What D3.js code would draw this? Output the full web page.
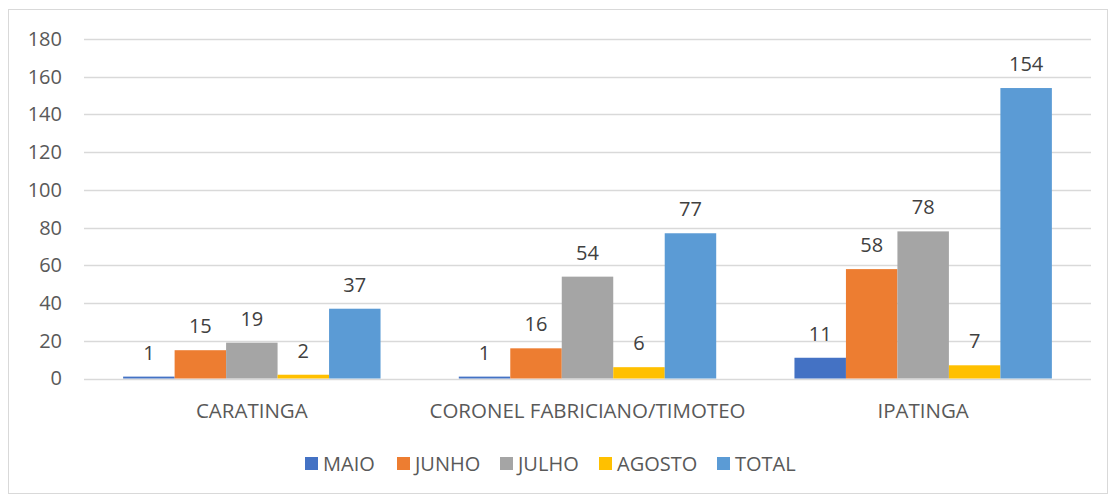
<!DOCTYPE html>
<html>
<head>
<meta charset="utf-8">
<script src="https://cdn.jsdelivr.net/npm/d3@7"></script>
<style>
  body { margin: 0; background: #fff; }
  svg text { font-family: "Open Sans", "Liberation Sans", Arial, sans-serif; }
</style>
</head>
<body>
<div id="chart"></div>
<script>
// data
var categories = ["CARATINGA", "CORONEL FABRICIANO/TIMOTEO", "IPATINGA"];
var seriesNames = ["MAIO", "JUNHO", "JULHO", "AGOSTO", "TOTAL"];
var maio   = [1, 1, 11];
var junho  = [15, 16, 58];
var julho  = [19, 54, 78];
var agosto = [2, 6, 7];
var total  = [37, 77, 154];
var yTicks = [0, 20, 40, 60, 80, 100, 120, 140, 160, 180];

var seriesValues = [maio, junho, julho, agosto, total];
var colors = ["#4472C4", "#ED7D31", "#A5A5A5", "#FFC000", "#5B9BD5"];

var W = 1115, H = 496;
var plotLeft = 84, plotRight = 1091, plotTop = 39, plotBottom = 378.5;

var svg = d3.select("#chart").append("svg")
  .attr("width", W).attr("height", H);

// outer border
svg.append("rect")
  .attr("x", 8.5).attr("y", 9.5)
  .attr("width", 1099).attr("height", 484)
  .attr("fill", "#fff").attr("stroke", "#d9d9d9");

var y = d3.scaleLinear().domain([0, 180]).range([plotBottom, plotTop]);
var x0 = d3.scaleBand().domain(categories).range([plotLeft, plotRight]);
var x1 = d3.scaleBand().domain(seriesNames).range([0, x0.bandwidth()]).paddingOuter(0.76);

// gridlines
svg.append("g").selectAll("line")
  .data(yTicks).join("line")
  .attr("x1", plotLeft).attr("x2", plotRight)
  .attr("y1", function(d){ return Math.round(y(d)) + 0.5; })
  .attr("y2", function(d){ return Math.round(y(d)) + 0.5; })
  .attr("stroke", "#d9d9d9").attr("stroke-width", 1.3);

// y axis labels
var yAxis = d3.axisLeft(y).tickValues(yTicks).tickSize(0).tickPadding(0);
var ya = svg.append("g").attr("transform", "translate(62,0)").call(yAxis);
ya.select(".domain").remove();
ya.selectAll("text").attr("fill", "#595959").style("font-size", "20px")
  .style("font-family", "'Open Sans', 'Liberation Sans', Arial, sans-serif");

// bars
var groups = svg.append("g").selectAll("g")
  .data(categories).join("g")
  .attr("transform", function(c){ return "translate(" + x0(c) + ",0)"; });

function rows(c, i) {
  return seriesNames.map(function(s, j){ return {s: s, v: seriesValues[j][i], j: j}; });
}

groups.selectAll("rect")
  .data(rows)
  .join("rect")
  .attr("x", function(d){ return x1(d.s); })
  .attr("width", x1.bandwidth())
  .attr("y", function(d){ return y(d.v); })
  .attr("height", function(d){ return y(0) - y(d.v); })
  .attr("fill", function(d){ return colors[d.j]; });

groups.selectAll("text.lbl")
  .data(rows)
  .join("text").attr("class", "lbl")
  .attr("x", function(d){ return x1(d.s) + x1.bandwidth() / 2; })
  .attr("y", function(d){ return y(d.v) - 17; })
  .attr("text-anchor", "middle")
  .attr("fill", "#404040").style("font-size", "20px")
  .text(function(d){ return d.v; });

// category labels
svg.append("g").selectAll("text")
  .data(categories).join("text")
  .attr("x", function(c){ return x0(c) + x0.bandwidth() / 2; })
  .attr("y", 418)
  .attr("text-anchor", "middle")
  .attr("fill", "#595959").style("font-size", "20.5px")
  .text(function(c){ return c; });

// legend
var legendX = [305, 397, 500, 599, 717];
var leg = svg.append("g").selectAll("g")
  .data(seriesNames).join("g")
  .attr("transform", function(d, i){ return "translate(" + legendX[i] + ",457)"; });
leg.append("rect").attr("width", 13).attr("height", 13)
  .attr("fill", function(d, i){ return colors[i]; });
leg.append("text").attr("x", 18).attr("y", 14)
  .attr("fill", "#595959").style("font-size", "20px")
  .text(function(d){ return d; });
</script>
</body>
</html>
